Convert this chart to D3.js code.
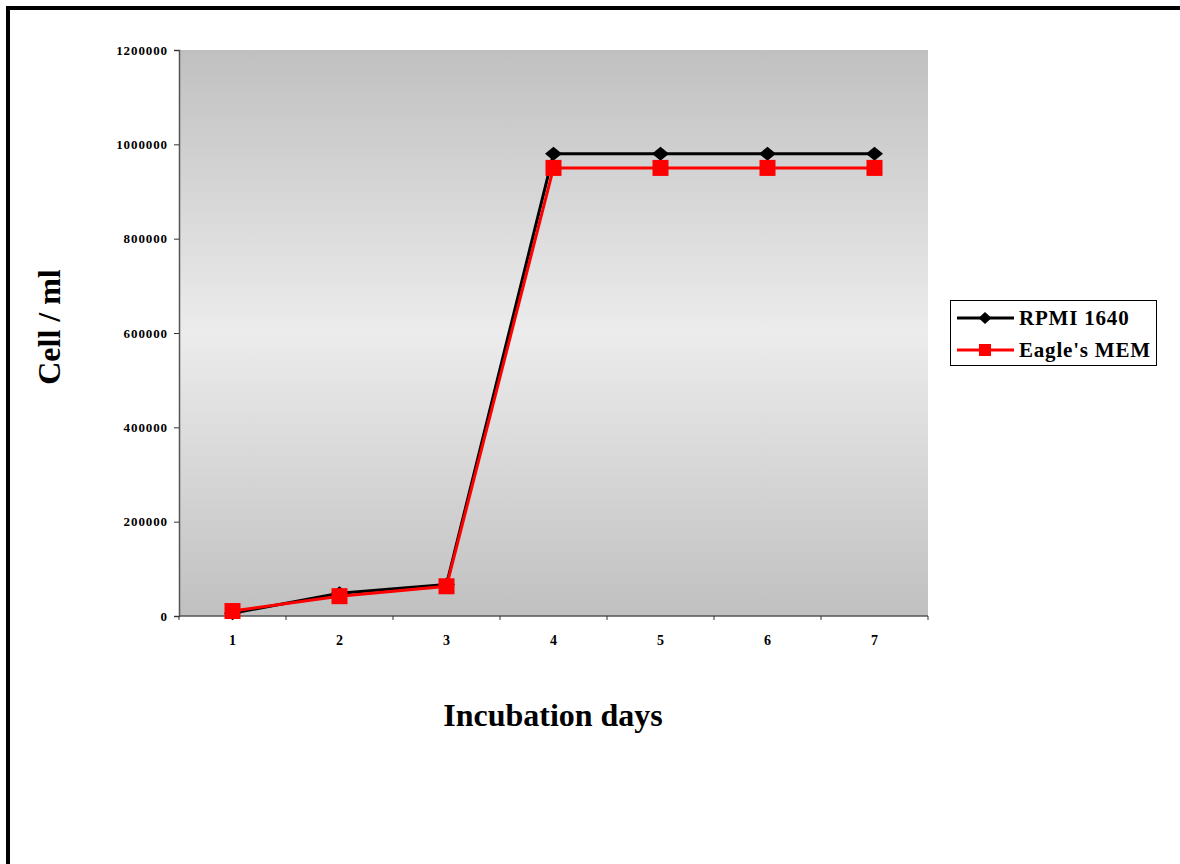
<!DOCTYPE html>
<html>
<head>
<meta charset="utf-8">
<script src="https://cdn.jsdelivr.net/npm/d3@7"></script>
<style>
  html, body { margin: 0; padding: 0; background: #fff; }
  svg { display: block; }
  text { font-family: "Liberation Serif", "Times New Roman", serif; font-weight: bold; fill: #000; }
</style>
</head>
<body>
<svg id="chart" width="1180" height="864"></svg>
<script>
// Incubation days (categories) and cell counts per medium
const days = ["1", "2", "3", "4", "5", "6", "7"];
const rpmi = [6000, 48000, 67000, 980000, 980000, 980000, 980000];
const eagle = [10500, 42000, 63000, 950000, 950000, 950000, 950000];
const yTicks = [0, 200000, 400000, 600000, 800000, 1000000, 1200000];
const seriesNames = ["RPMI 1640", "Eagle's MEM"];

const svg = d3.select("#chart");
const plot = { left: 179, top: 50, right: 928, bottom: 616 };

// Outer frame
svg.append("rect")
  .attr("x", 8).attr("y", 8)
  .attr("width", 1220).attr("height", 920)
  .attr("fill", "none").attr("stroke", "#000").attr("stroke-width", 4);

// Plot area gradient: darker at top and bottom, lighter in the middle
const defs = svg.append("defs");
const grad = defs.append("linearGradient")
  .attr("id", "bg").attr("x1", 0).attr("y1", 0).attr("x2", 0).attr("y2", 1);
grad.append("stop").attr("offset", "0%").attr("stop-color", "#c0c0c0");
grad.append("stop").attr("offset", "50%").attr("stop-color", "#ececec");
grad.append("stop").attr("offset", "100%").attr("stop-color", "#c0c0c0");

svg.append("rect")
  .attr("x", plot.left).attr("y", plot.top)
  .attr("width", plot.right - plot.left).attr("height", plot.bottom - plot.top)
  .attr("fill", "url(#bg)");

const x = d3.scaleBand().domain(days).range([plot.left, plot.right]);
const y = d3.scaleLinear().domain([0, 1200000]).range([plot.bottom, plot.top]);

// Y axis
const yAxis = svg.append("g")
  .attr("transform", `translate(${plot.left},0)`)
  .call(d3.axisLeft(y).tickValues(yTicks).tickFormat(d3.format("d")).tickSize(5).tickPadding(6));
yAxis.select(".domain").attr("stroke", "#555").attr("stroke-width", 1.5);
yAxis.selectAll(".tick line").attr("stroke", "#333");
yAxis.selectAll("text")
  .style("font-family", "'Liberation Serif', serif").style("font-weight", "bold")
  .style("font-size", "13px").style("letter-spacing", "0.9px").attr("fill", "#000");

// X axis: ticks at category boundaries
const xAxis = svg.append("g")
  .attr("transform", `translate(0,${plot.bottom})`);
xAxis.append("line")
  .attr("x1", plot.left).attr("x2", plot.right)
  .attr("stroke", "#555").attr("stroke-width", 1.5);
const bounds = days.map(d => x(d)).concat([plot.right]);
xAxis.selectAll("line.tick").data(bounds).enter().append("line")
  .attr("class", "tick")
  .attr("x1", d => d).attr("x2", d => d)
  .attr("y1", 0).attr("y2", 4)
  .attr("stroke", "#333");
xAxis.selectAll("text.lbl").data(days).enter().append("text")
  .attr("class", "lbl")
  .attr("x", d => x(d) + x.bandwidth() / 2)
  .attr("y", 29)
  .attr("text-anchor", "middle")
  .style("font-size", "14px")
  .text(d => d);

// Axis titles
svg.append("text")
  .attr("transform", "translate(60,327) rotate(-90)")
  .attr("text-anchor", "middle")
  .style("font-size", "32px")
  .text("Cell / ml");
svg.append("text")
  .attr("x", 553).attr("y", 726)
  .attr("text-anchor", "middle")
  .style("font-size", "32px")
  .text("Incubation days");

const cx = (d, i) => x(days[i]) + x.bandwidth() / 2;
const line = d3.line().x((d, i) => cx(d, i)).y(d => y(d));
const diamondPath = (hw, hh) => `M0,${-hh}L${hw},0L0,${hh}L${-hw},0Z`;

// RPMI 1640 series (black, diamonds)
svg.append("path").datum(rpmi)
  .attr("d", line).attr("fill", "none").attr("stroke", "#000").attr("stroke-width", 3);
svg.selectAll("path.rpmi").data(rpmi).enter().append("path")
  .attr("class", "rpmi")
  .attr("d", diamondPath(8.5, 7))
  .attr("transform", (d, i) => `translate(${cx(d, i)},${y(d)})`)
  .attr("fill", "#000");

// Eagle's MEM series (red, squares)
svg.append("path").datum(eagle)
  .attr("d", line).attr("fill", "none").attr("stroke", "#ff0000").attr("stroke-width", 3);
svg.selectAll("rect.eagle").data(eagle).enter().append("rect")
  .attr("class", "eagle")
  .attr("x", (d, i) => cx(d, i) - 8).attr("y", d => y(d) - 8)
  .attr("width", 16).attr("height", 16)
  .attr("fill", "#ff0000");

// Legend
const legend = svg.append("g");
legend.append("rect")
  .attr("x", 950.5).attr("y", 300.5).attr("width", 206).attr("height", 65)
  .attr("fill", "#fff").attr("stroke", "#000").attr("stroke-width", 1);
const colors = ["#000", "#ff0000"];
seriesNames.forEach((name, i) => {
  const ly = 318 + i * 32;
  legend.append("line")
    .attr("x1", 957).attr("x2", 1014).attr("y1", ly).attr("y2", ly)
    .attr("stroke", colors[i]).attr("stroke-width", 3);
  if (i === 0) {
    legend.append("path")
      .attr("d", diamondPath(6.5, 6))
      .attr("transform", `translate(985,${ly})`)
      .attr("fill", "#000");
  } else {
    legend.append("rect")
      .attr("x", 979).attr("y", ly - 6).attr("width", 12).attr("height", 12)
      .attr("fill", "#ff0000");
  }
  legend.append("text")
    .attr("x", 1019).attr("y", ly + 7)
    .style("font-size", "21px")
    .style("letter-spacing", "0.8px")
    .text(name);
});
</script>
</body>
</html>
